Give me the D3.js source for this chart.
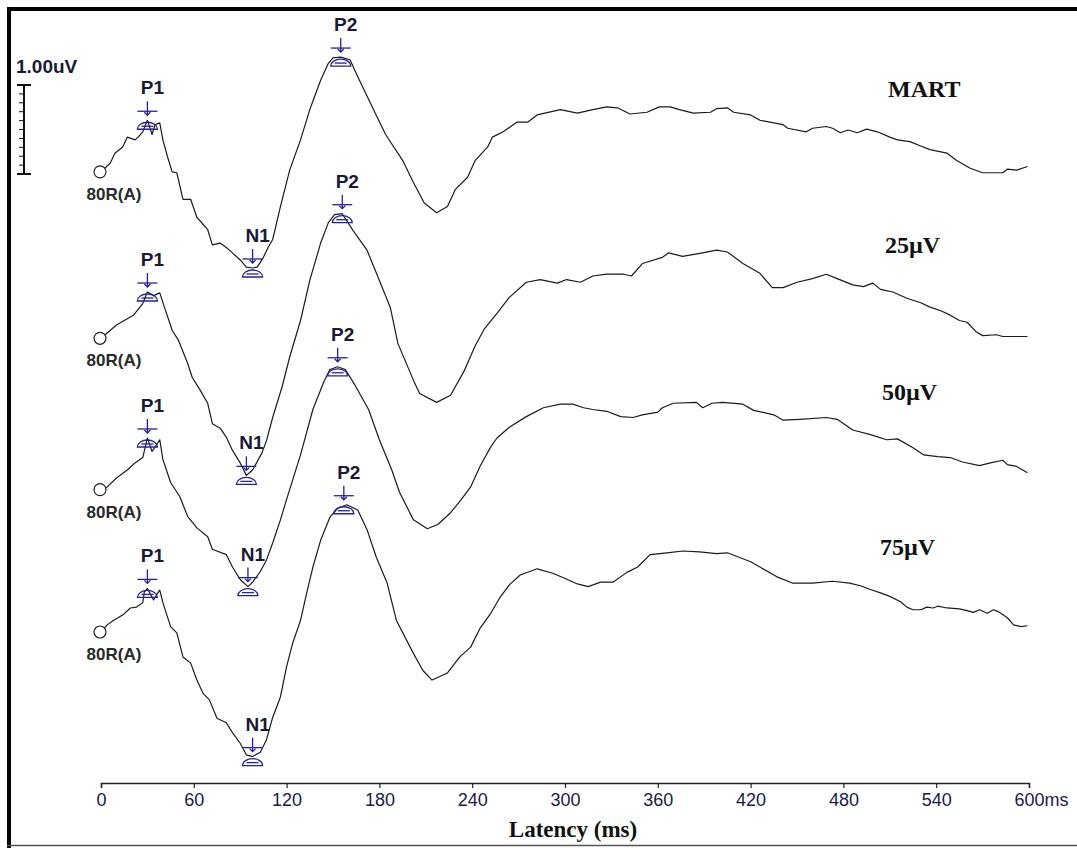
<!DOCTYPE html>
<html>
<head>
<meta charset="utf-8">
<script src="https://cdn.jsdelivr.net/npm/d3@7"></script>
<style>
  html, body { margin: 0; padding: 0; background: #fff; }
  svg { display: block; }
</style>
</head>
<body>
<div id="chart"></div>
<script>
// waveforms: [latency ms, amplitude uV relative to the start of the trace]
const martWave = [
  [0,0],[6,0.10],[9,0.21],[14,0.28],[17,0.39],[22,0.36],[24,0.39],[27,0.45],[30,0.58],[33,0.42],
  [35,0.53],[38,0.55],[40,0.36],[43,0.17],[46,0.00],[49,-0.01],[53,-0.31],[58,-0.31],[62,-0.51],
  [69,-0.65],[72,-0.82],[77,-0.80],[81,-0.85],[85,-0.91],[90,-0.99],[94,-1.07],[98,-1.08],
  [101,-1.07],[105,-0.96],[108,-0.85],[111,-0.76],[116,-0.39],[122,0.02],[129,0.36],[135,0.70],
  [142,1.03],[147,1.22],[150,1.28],[155,1.29],[161,1.26],[166,1.07],[174,0.78],[184,0.42],
  [195,0.13],[202,-0.12],[209,-0.35],[217,-0.46],[224,-0.39],[229,-0.20],[237,-0.06],[242,0.13],
  [250,0.28],[253,0.39],[260,0.45],[269,0.56],[276,0.56],[282,0.64],[297,0.70],[308,0.66],
  [318,0.70],[327,0.73],[334,0.72],[342,0.65],[353,0.67],[361,0.73],[368,0.73],[374,0.70],
  [383,0.66],[394,0.67],[398,0.71],[405,0.72],[409,0.67],[420,0.64],[426,0.58],[441,0.53],
  [444,0.49],[456,0.45],[460,0.49],[469,0.51],[473,0.49],[478,0.44],[483,0.47],[489,0.44],
  [495,0.48],[502,0.45],[510,0.39],[515,0.36],[523,0.34],[530,0.29],[536,0.25],[547,0.21],
  [553,0.13],[562,0.04],[570,-0.01],[583,-0.01],[586,0.03],[592,0.02],[599,0.06]
];
const wave25 = [
  [0,0],[4,0.06],[10,0.15],[17,0.22],[21,0.26],[27,0.39],[30,0.52],[34,0.48],[38,0.51],[41,0.35],
  [46,0.09],[50,-0.02],[56,-0.28],[59,-0.44],[64,-0.58],[69,-0.73],[72,-0.96],[77,-1.01],
  [81,-1.11],[85,-1.26],[90,-1.40],[94,-1.54],[98,-1.48],[104,-1.29],[107,-1.15],[111,-0.89],
  [117,-0.55],[122,-0.21],[129,0.20],[135,0.65],[142,1.07],[147,1.30],[151,1.39],[156,1.40],
  [163,1.21],[172,0.99],[180,0.65],[187,0.35],[192,-0.06],[202,-0.47],[206,-0.62],[217,-0.72],
  [226,-0.64],[235,-0.36],[242,-0.08],[248,0.11],[256,0.28],[264,0.46],[275,0.63],[284,0.66],
  [295,0.62],[301,0.66],[310,0.63],[318,0.70],[327,0.72],[338,0.72],[343,0.70],[350,0.84],
  [363,0.91],[367,0.96],[376,0.92],[389,0.96],[398,0.99],[405,0.97],[415,0.84],[426,0.73],
  [434,0.57],[441,0.57],[450,0.63],[460,0.67],[469,0.72],[476,0.67],[486,0.60],[493,0.58],
  [499,0.62],[504,0.55],[512,0.52],[521,0.45],[530,0.40],[536,0.35],[543,0.31],[549,0.26],
  [555,0.20],[560,0.18],[566,0.07],[570,0.03],[579,0.04],[583,0.02],[599,0.02]
];
const wave50 = [
  [0,0],[4,0.03],[10,0.13],[17,0.22],[22,0.30],[27,0.36],[30,0.58],[33,0.43],[35,0.48],[38,0.56],
  [40,0.34],[45,0.08],[51,-0.08],[56,-0.30],[62,-0.43],[69,-0.53],[72,-0.67],[81,-0.73],
  [85,-0.87],[90,-1.01],[95,-1.09],[98,-1.04],[103,-0.92],[107,-0.79],[111,-0.60],[116,-0.34],
  [120,-0.11],[129,0.39],[137,0.90],[144,1.21],[148,1.35],[153,1.38],[158,1.35],[164,1.18],
  [173,0.90],[180,0.56],[188,0.22],[193,-0.03],[202,-0.34],[211,-0.44],[218,-0.39],[226,-0.26],
  [233,-0.11],[239,0.03],[245,0.26],[252,0.48],[256,0.58],[264,0.70],[275,0.82],[286,0.92],
  [297,0.96],[305,0.96],[312,0.92],[318,0.90],[327,0.88],[336,0.82],[344,0.81],[350,0.84],
  [360,0.87],[363,0.92],[370,0.97],[385,0.98],[389,0.92],[395,0.97],[402,0.98],[415,0.96],
  [422,0.89],[435,0.84],[441,0.78],[452,0.79],[469,0.81],[476,0.79],[486,0.67],[497,0.62],
  [508,0.56],[515,0.57],[525,0.47],[532,0.39],[541,0.37],[549,0.36],[557,0.31],[568,0.27],
  [575,0.30],[583,0.33],[586,0.28],[592,0.26],[599,0.19]
];
const wave75 = [
  [0,0],[4,0.08],[8,0.13],[14,0.19],[19,0.27],[23,0.28],[27,0.33],[28,0.45],[30,0.49],[34,0.36],
  [36,0.42],[38,0.47],[40,0.33],[45,0.06],[49,-0.01],[53,-0.28],[58,-0.35],[62,-0.54],[66,-0.69],
  [70,-0.76],[75,-0.97],[81,-1.02],[85,-1.13],[90,-1.25],[94,-1.38],[98,-1.40],[103,-1.35],
  [107,-1.21],[111,-0.96],[116,-0.73],[120,-0.39],[124,-0.12],[129,0.13],[133,0.44],[137,0.73],
  [142,1.03],[148,1.29],[153,1.39],[159,1.43],[166,1.37],[172,1.15],[178,0.84],[185,0.55],
  [191,0.13],[202,-0.24],[208,-0.43],[214,-0.54],[224,-0.46],[232,-0.28],[239,-0.17],[245,0.04],
  [252,0.21],[258,0.39],[264,0.53],[271,0.64],[282,0.71],[292,0.66],[299,0.61],[308,0.54],
  [315,0.51],[323,0.56],[331,0.56],[340,0.67],[347,0.73],[355,0.87],[366,0.89],[376,0.91],
  [387,0.90],[398,0.88],[405,0.89],[420,0.79],[426,0.73],[437,0.62],[447,0.55],[460,0.55],
  [473,0.57],[484,0.55],[491,0.52],[497,0.48],[504,0.44],[510,0.40],[517,0.34],[521,0.28],
  [525,0.25],[530,0.25],[534,0.28],[538,0.27],[541,0.29],[547,0.27],[555,0.26],[560,0.24],
  [564,0.22],[568,0.25],[573,0.21],[577,0.25],[581,0.22],[586,0.16],[590,0.08],[595,0.06],[599,0.07]
];

// marked peaks: [name, latency ms, amplitude uV]
const martPeaks = [["P1",30,0.58],["N1",98,-1.08],["P2",155,1.29]];
const peaks25 = [["P1",30,0.52],["N1",94,-1.54],["P2",156,1.40]];
const peaks50 = [["P1",30,0.58],["N1",95,-1.09],["P2",153,1.38]];
const peaks75 = [["P1",30,0.49],["N1",98,-1.40],["P2",157,1.43]];

const traceNames = ["MART", "25\u00b5V", "50\u00b5V", "75\u00b5V"];
const stimLabel = "80R(A)";
const traceOffsets = [5.17, 3.30, 1.60, 0]; // uV shift of each trace in the stack
const xTicks = [0, 60, 120, 180, 240, 300, 360, 420, 480, 540, 600];

// layout
const W = 1077, H = 848;
const nameX = [888, 885, 882, 880];
const nameY = [97, 253, 400, 555];
const ink = "#1b1b1b";
const markBlue = "#23239a";

const svg = d3.select("#chart").append("svg")
  .attr("width", W).attr("height", H);

// frame
svg.append("line").attr("x1", 7).attr("x2", W).attr("y1", 9).attr("y2", 9)
  .attr("stroke", "#000").attr("stroke-width", 4);
svg.append("line").attr("x1", 9).attr("x2", 9).attr("y1", 7).attr("y2", H)
  .attr("stroke", "#000").attr("stroke-width", 4);
svg.append("line").attr("x1", 7).attr("x2", W).attr("y1", 845.5).attr("y2", 845.5)
  .attr("stroke", "#555").attr("stroke-width", 1.5);

const x = d3.scaleLinear().domain([0, 600]).range([101, 1029]);
const y = d3.scaleLinear().domain([0, 1]).range([632, 543]);

const line = d3.line()
  .x((d) => x(d[0]))
  .y((d) => y(d[1]));

const waves = [martWave, wave25, wave50, wave75];
const peaks = [martPeaks, peaks25, peaks50, peaks75];

waves.forEach((wave, i) => {
  const off = traceOffsets[i];
  const shifted = wave.map((d) => [d[0], d[1] + off]);

  svg.append("path")
    .datum(shifted)
    .attr("d", line)
    .attr("fill", "none")
    .attr("stroke", ink)
    .attr("stroke-width", 1.2)
    .attr("stroke-linejoin", "round");

  // start circle and stimulus label
  svg.append("circle")
    .attr("cx", x(0) - 1).attr("cy", y(off)).attr("r", 6)
    .attr("fill", "#fff").attr("stroke", "#222").attr("stroke-width", 1.2);
  svg.append("text")
    .attr("x", 114).attr("y", y(off) + 28)
    .attr("text-anchor", "middle")
    .attr("font-family", "Liberation Sans, Arial, sans-serif")
    .attr("font-weight", "bold").attr("font-size", 17)
    .attr("fill", "#2a2a2a")
    .text(stimLabel);

  // trace name on the right
  svg.append("text")
    .attr("x", nameX[i]).attr("y", nameY[i])
    .attr("font-family", "Liberation Serif, Times New Roman, serif")
    .attr("font-weight", "bold").attr("font-size", 24)
    .attr("fill", "#111")
    .text(traceNames[i]);

  // peak markers
  peaks[i].forEach((p) => {
    const px = x(p[1]);
    const py = y(p[2] + off);
    const g = svg.append("g").attr("stroke", markBlue).attr("fill", "none").attr("stroke-width", 1.3);
    g.append("line").attr("x1", px).attr("x2", px).attr("y1", py - 19).attr("y2", py - 5);
    g.append("line").attr("x1", px - 10).attr("x2", px + 10).attr("y1", py - 9).attr("y2", py - 9);
    g.append("path").attr("d", `M${px - 3},${py - 8}L${px},${py - 5}L${px + 3},${py - 8}`);
    g.append("path")
      .attr("d", `M${px - 10},${py + 9}A10,7 0 0 1 ${px + 10},${py + 9}Z`);
    g.append("line").attr("x1", px - 6).attr("x2", px + 6).attr("y1", py + 6).attr("y2", py + 6);

    svg.append("text")
      .attr("x", px + 5).attr("y", py - 26)
      .attr("text-anchor", "middle")
      .attr("font-family", "Liberation Sans, Arial, sans-serif")
      .attr("font-weight", "bold").attr("font-size", 19)
      .attr("fill", "#1a1a35")
      .text(p[0]);
  });
});

// amplitude scale bar (1 uV)
const barTop = 85;
const barLen = y(0) - y(1);
const bar = svg.append("g").attr("stroke", "#111").attr("stroke-width", 2);
bar.append("line").attr("x1", 24).attr("x2", 24).attr("y1", barTop).attr("y2", barTop + barLen);
bar.append("line").attr("x1", 17).attr("x2", 31).attr("y1", barTop).attr("y2", barTop);
bar.append("line").attr("x1", 17).attr("x2", 31).attr("y1", barTop + barLen).attr("y2", barTop + barLen);
d3.range(1, 10).forEach((k) => {
  bar.append("line")
    .attr("x1", 19).attr("x2", 24)
    .attr("y1", barTop + (barLen * k) / 10).attr("y2", barTop + (barLen * k) / 10)
    .attr("stroke-width", 1);
});
svg.append("text")
  .attr("x", 16).attr("y", 73)
  .attr("font-family", "Liberation Sans, Arial, sans-serif")
  .attr("font-weight", "bold").attr("font-size", 19)
  .attr("fill", "#1a1a35")
  .text("1.00uV");

// latency axis
const axis = svg.append("g")
  .attr("transform", "translate(0,783)")
  .call(
    d3.axisBottom(x)
      .tickValues(xTicks)
      .tickSize(5)
      .tickSizeOuter(5)
      .tickFormat((d) => d)
  );
axis.select(".domain").attr("stroke", "#222").attr("stroke-width", 1.5);
axis.selectAll(".tick line").attr("stroke", "#222").attr("stroke-width", 1.2);
axis.selectAll(".tick text")
  .attr("font-family", "Liberation Sans, Arial, sans-serif")
  .attr("font-size", 18)
  .attr("fill", "#1a1a4a")
  .attr("dy", "0.85em");
axis.selectAll(".tick")
  .filter((d) => d === 600)
  .select("text")
  .attr("text-anchor", "start")
  .attr("x", -15)
  .text("600ms");

svg.append("text")
  .attr("x", 573).attr("y", 837)
  .attr("text-anchor", "middle")
  .attr("font-family", "Liberation Serif, Times New Roman, serif")
  .attr("font-weight", "bold").attr("font-size", 23)
  .attr("fill", "#111")
  .text("Latency (ms)");
</script>
</body>
</html>
